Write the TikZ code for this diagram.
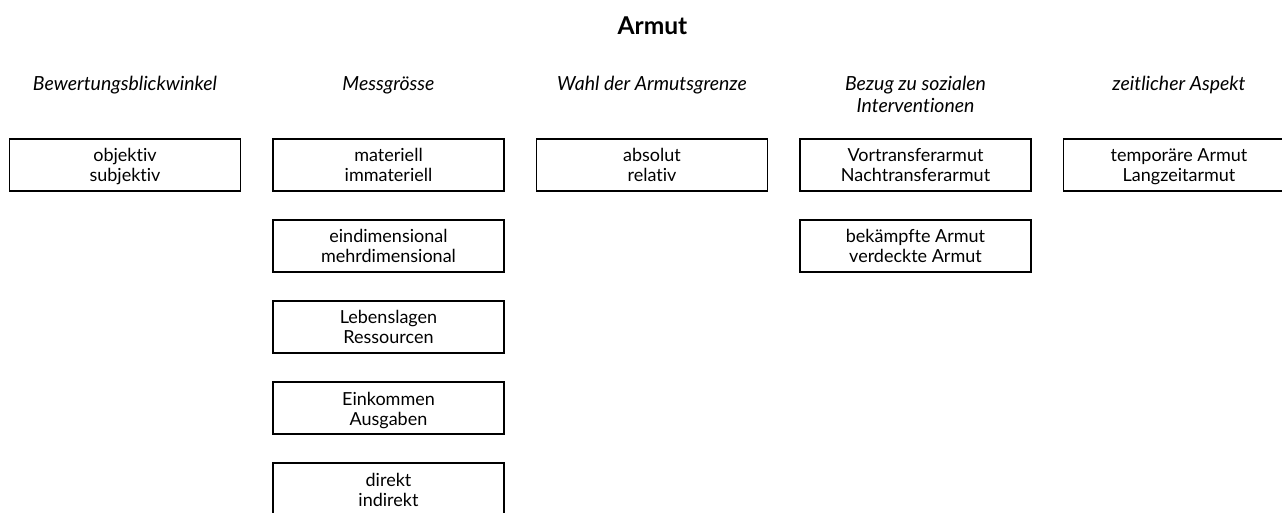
\documentclass[tikz,border=0pt]{standalone}
\usepackage{fontspec}
\setmainfont{Lato}[Ligatures=NoCommon]
\newcommand\twolines[2]{\rule{0pt}{15pt}#1\\\strut #2}
\begin{document}
\begin{tikzpicture}[x=0.75pt,y=-0.75pt,
  catbox/.style={draw=black, line width=1pt, minimum width=173.25pt, minimum height=39pt,
    inner sep=0pt, align=center, font=\fontsize{13.5}{15}\selectfont},
  header/.style={anchor=north, inner sep=0pt, align=center, font=\fontsize{14.6}{15}\selectfont\itshape},
  titlestyle/.style={anchor=base, inner sep=0pt, font=\fontsize{18.4}{20}\selectfont\bfseries}]
\useasboundingbox (0,0) rectangle (1282,513);
\node[titlestyle] (title) at (652.5,35) {Armut};
% headers
\node[header] (h1) at (125,76) {\strut Bewertungsblickwinkel};
\node[header] (h2) at (388.5,76) {\strut Messgrösse};
\node[header] (h3) at (652,76) {\strut Wahl der Armutsgrenze};
\node[header] (h4) at (915.5,76) {\strut Bezug zu sozialen\\\strut Interventionen};
\node[header] (h5) at (1179,76) {\strut zeitlicher Aspekt};
% boxes
\node[catbox] (b11) at (125,165) {\twolines{objektiv}{subjektiv}};
\node[catbox] (b21) at (388.5,165) {\twolines{materiell}{immateriell}};
\node[catbox] (b22) at (388.5,246) {\twolines{eindimensional}{mehrdimensional}};
\node[catbox] (b23) at (388.5,327) {\twolines{Lebenslagen}{Ressourcen}};
\node[catbox] (b24) at (388.5,408) {\twolines{Einkommen}{Ausgaben}};
\node[catbox] (b25) at (388.5,489) {\twolines{direkt}{indirekt}};
\node[catbox] (b31) at (652,165) {\twolines{absolut}{relativ}};
\node[catbox] (b41) at (915.5,165) {\twolines{Vortransferarmut}{Nachtransferarmut}};
\node[catbox] (b42) at (915.5,246) {\twolines{bekämpfte Armut}{verdeckte Armut}};
\node[catbox] (b51) at (1179,165) {\twolines{temporäre Armut}{Langzeitarmut}};
\end{tikzpicture}
\end{document}
